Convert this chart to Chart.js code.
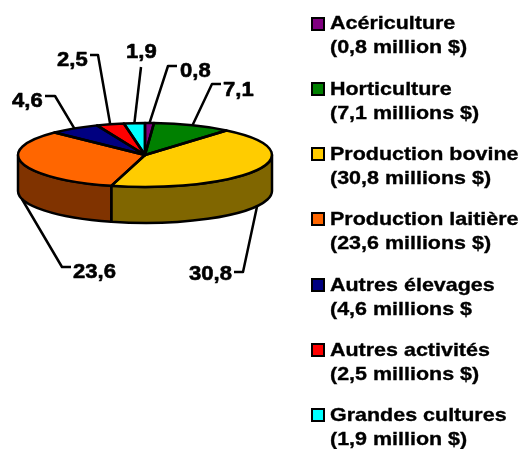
<!DOCTYPE html>
<html>
<head>
<meta charset="utf-8">
<script src="https://cdn.jsdelivr.net/npm/chart.js@4/dist/chart.umd.min.js"></script>
<style>
html,body{margin:0;padding:0;background:#fff;}
#wrap{position:relative;width:520px;height:449px;overflow:hidden;background:#fff;}
#c{position:absolute;left:0;top:0;}
.sq{position:absolute;left:311px;width:14px;height:14px;box-sizing:border-box;border:2px solid #000;}
.lt{position:absolute;left:330px;font:bold 19px "Liberation Sans",Arial,sans-serif;line-height:24px;color:#000;white-space:nowrap;transform:scaleX(1.13);transform-origin:0 0;-webkit-text-stroke:0.35px #000;}
</style>
</head>
<body>
<div id="wrap">
<canvas id="c" width="520" height="449"></canvas>
</div>
<script>
// ---- data ----
const categories = ['Acériculture','Horticulture','Production bovine','Production laitière','Autres élevages','Autres activités','Grandes cultures'];
const values = [0.8, 7.1, 30.8, 23.6, 4.6, 2.5, 1.9];
const valueLabels = ['0,8','7,1','30,8','23,6','4,6','2,5','1,9'];
const legendDetails = ['(0,8 million $)','(7,1 millions $)','(30,8 millions $)','(23,6 millions $)','(4,6 millions $','(2,5 millions $)','(1,9 million $)'];
const topColors = ['#800080','#008000','#FFCC00','#FF6600','#000080','#FF0000','#00FFFF'];
const sideColors = ['#400040','#004000','#806600','#803300','#000040','#800000','#008080'];

// ---- layout (not data) ----
const SQUASH = 32/127;
const DEPTH = 36;
const labelLayout = [
  {tx:180, ty:77,  pts:[[168,66],[177,66]]},
  {tx:223, ty:96,  pts:[[212,84],[221,84]]},
  {tx:189, ty:280, side:28,  pts:[[243,272],[234,272]]},
  {tx:73,  ty:278, side:166, pts:[[62,267],[71,267]]},
  {tx:12,  ty:107, pts:[[55,96],[45,96]]},
  {tx:57,  ty:66,  pts:[[98,55],[90,55]]},
  {tx:126, ty:58,  pts:[[141,67]]}
];

// legend (HTML text)
const wrap = document.getElementById('wrap');
categories.forEach((name, i) => {
  const base = 30 + 65.3 * i;
  const sq = document.createElement('div');
  sq.className = 'sq';
  sq.style.top = (base - 13.5) + 'px';
  sq.style.background = topColors[i];
  wrap.appendChild(sq);
  const t = document.createElement('div');
  t.className = 'lt';
  t.style.top = (base - 18.6) + 'px';
  t.innerHTML = name + '<br>' + legendDetails[i];
  wrap.appendChild(t);
});

function sideRanges(s, e) {
  const out = [];
  for (let k = -1; k <= 1; k++) {
    const lo = k * 2 * Math.PI, hi = lo + Math.PI;
    const a1 = Math.max(s, lo), a2 = Math.min(e, hi);
    if (a2 > a1) out.push([a1, a2]);
  }
  return out;
}

const pie3d = {
  id: 'pie3d',
  beforeDatasetsDraw(chart) {
    const ctx = chart.ctx;
    const arcs = chart.getDatasetMeta(0).data;
    const cx = arcs[0].x, cy = arcs[0].y, r = arcs[0].outerRadius, ry = r * SQUASH;
    ctx.save();
    ctx.lineWidth = 2.5;
    ctx.strokeStyle = '#000';
    ctx.lineJoin = 'round';
    arcs.forEach((a, i) => {
      sideRanges(a.startAngle, a.endAngle).forEach(([a1, a2]) => {
        ctx.beginPath();
        ctx.ellipse(cx, cy, r, ry, 0, a1, a2, false);
        ctx.lineTo(cx + r * Math.cos(a2), cy + DEPTH + ry * Math.sin(a2));
        ctx.ellipse(cx, cy + DEPTH, r, ry, 0, a2, a1, true);
        ctx.closePath();
        ctx.fillStyle = sideColors[i];
        ctx.fill();
        ctx.stroke();
      });
    });
    ctx.restore();
    ctx.save();
    ctx.translate(0, cy);
    ctx.scale(1, SQUASH);
    ctx.translate(0, -cy);
  },
  afterDatasetsDraw(chart) {
    const ctx = chart.ctx;
    ctx.restore();
    const arcs = chart.getDatasetMeta(0).data;
    const cx = arcs[0].x, cy = arcs[0].y, r = arcs[0].outerRadius, ry = r * SQUASH;
    ctx.save();
    ctx.lineWidth = 2.5;
    ctx.strokeStyle = '#000';
    ctx.lineJoin = 'round';
    arcs.forEach((a) => {
      ctx.beginPath();
      ctx.moveTo(cx, cy);
      ctx.ellipse(cx, cy, r, ry, 0, a.startAngle, a.endAngle, false);
      ctx.closePath();
      ctx.stroke();
    });
    // value labels with leader lines
    ctx.lineWidth = 2.5;
    ctx.fillStyle = '#000';
    ctx.font = 'bold 21px "Liberation Sans", Arial, sans-serif';
    ctx.textBaseline = 'alphabetic';
    ctx.textAlign = 'left';
    arcs.forEach((a, i) => {
      const L = labelLayout[i];
      let ax, ay;
      if (L.side !== undefined) {
        const ang = L.side * Math.PI / 180;
        ax = cx + r * Math.cos(ang);
        ay = cy + DEPTH + ry * Math.sin(ang);
      } else {
        const m = (a.startAngle + a.endAngle) / 2;
        ax = cx + r * Math.cos(m);
        ay = cy + ry * Math.sin(m);
      }
      ctx.beginPath();
      ctx.moveTo(ax, ay);
      L.pts.forEach(p => ctx.lineTo(p[0], p[1]));
      ctx.stroke();
      ctx.save();
      ctx.translate(L.tx, L.ty);
      ctx.scale(1.05, 1);
      ctx.lineWidth = 0.6;
      ctx.fillText(valueLabels[i], 0, 0);
      ctx.strokeText(valueLabels[i], 0, 0);
      ctx.restore();
    });
    ctx.restore();
  }
};

new Chart(document.getElementById('c'), {
  type: 'pie',
  data: {
    labels: categories,
    datasets: [{ data: values, backgroundColor: topColors, borderWidth: 0 }]
  },
  options: {
    responsive: false,
    animation: false,
    events: [],
    layout: { padding: { left: 18, right: 248, top: 28, bottom: 167 } },
    plugins: { legend: { display: false }, tooltip: { enabled: false } }
  },
  plugins: [pie3d]
});
</script>
</body>
</html>
